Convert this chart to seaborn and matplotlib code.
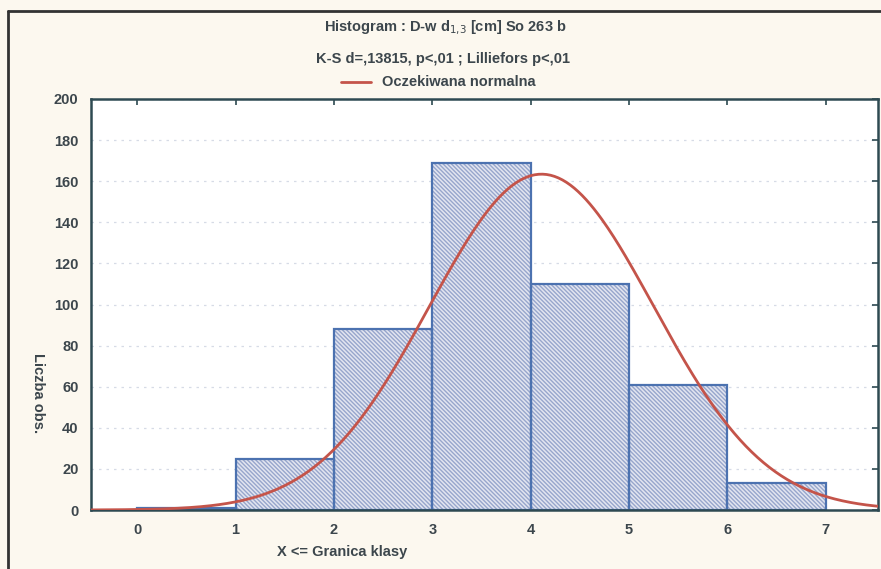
import numpy as np
import pandas as pd
import matplotlib
matplotlib.use("Agg")
import matplotlib.pyplot as plt
from matplotlib.lines import Line2D
import seaborn as sns

# class upper bounds and counts
bin_edges = [0, 1, 2, 3, 4, 5, 6, 7]
counts = [1, 25, 88, 169, 110, 61, 13]
x_ticks = [0, 1, 2, 3, 4, 5, 6, 7]
y_ticks = [0, 20, 40, 60, 80, 100, 120, 140, 160, 180, 200]

# expected normal (fitted parameters, estimated from the curve)
norm_mean = 4.11
norm_sd = 1.14

title1 = r"Histogram : D-w d$_{1{,}3}$ [cm] So 263 b"
title2 = "K-S d=,13815, p<,01 ; Lilliefors p<,01"
legend_label = "Oczekiwana normalna"
xlabel = "X <= Granica klasy"
ylabel = "Liczba obs."

sns.set_theme(style="white")
plt.rcParams['font.family'] = ['Liberation Sans', 'DejaVu Sans']

txt_col = "#3c464c"
spine_col = "#2e4a52"
edge_col = "#2a5cb8"
hatch_col = "#97a6cc"
fill_col = "#e2e5f0"
curve_col = "#c4544a"
fs = 10.5

df = pd.DataFrame({
    "x": [(a + b) / 2 for a, b in zip(bin_edges[:-1], bin_edges[1:])],
    "n": counts,
})

fig = plt.figure(figsize=(8.81, 5.69), dpi=100)
fig.patch.set_facecolor("#fcf8ef")
ax = fig.add_axes([91 / 881, 1 - 510 / 569, (878 - 91) / 881, (510 - 99) / 569])
ax.set_facecolor("white")

# hatched fill
plt.rcParams['hatch.linewidth'] = 1.0
sns.histplot(data=df, x="x", weights="n", bins=bin_edges, ax=ax,
             color=fill_col, edgecolor=hatch_col, linewidth=0, alpha=1,
             hatch="\\" * 8)
# bar outlines
sns.histplot(data=df, x="x", weights="n", bins=bin_edges, ax=ax,
             fill=False, edgecolor=edge_col, linewidth=1.6)

# expected normal curve
n_total = sum(counts)
xs = np.linspace(-0.47, 7.53, 400)
ys = n_total / (norm_sd * np.sqrt(2 * np.pi)) * np.exp(-0.5 * ((xs - norm_mean) / norm_sd) ** 2)
sns.lineplot(x=xs, y=ys, ax=ax, color=curve_col, linewidth=2, zorder=5)

ax.set_xlim(-0.47, 7.53)
ax.set_ylim(0, 200)
ax.set_xticks(x_ticks)
ax.set_yticks(y_ticks)
ax.set_xlabel("")
ax.set_ylabel("")
ax.yaxis.grid(True, linestyle=(0, (2, 4)), color="#d6dbe6", linewidth=0.9)
ax.set_axisbelow(True)
ax.tick_params(direction="in", length=4, width=1.2, color=spine_col,
               top=True, right=True, labelsize=fs, labelcolor=txt_col, pad=9)
for lab in ax.get_xticklabels() + ax.get_yticklabels():
    lab.set_fontweight("bold")
for s in ax.spines.values():
    s.set_color(spine_col)
    s.set_linewidth(1.8)

# titles and legend
fig.text(445 / 881, 1 - 28 / 569, title1, ha="center", va="center",
         fontsize=fs, color=txt_col, fontweight="bold")
fig.text(443 / 881, 1 - 59 / 569, title2, ha="center", va="center",
         fontsize=fs, color=txt_col, fontweight="bold")
fig.add_artist(Line2D([341 / 881, 371 / 881], [1 - 82 / 569, 1 - 82 / 569],
                      color=curve_col, linewidth=2))
fig.text(382 / 881, 1 - 82 / 569, legend_label, ha="left", va="center",
         fontsize=fs, color=txt_col, fontweight="bold")

fig.text(342 / 881, 1 - 552 / 569, xlabel, ha="center", va="center",
         fontsize=fs, color=txt_col, fontweight="bold")
fig.text(38 / 881, 1 - 393 / 569, ylabel, ha="center", va="center",
         rotation=270, fontsize=fs, color=txt_col, fontweight="bold")

# frame of the scanned figure
fig.add_artist(Line2D([8 / 881, 1], [1 - 11 / 569, 1 - 11 / 569], color="#333333", linewidth=2))
fig.add_artist(Line2D([8 / 881, 8 / 881], [0, 1 - 11 / 569], color="#333333", linewidth=2))

fig.savefig("out.png", dpi=100, facecolor=fig.get_facecolor())
